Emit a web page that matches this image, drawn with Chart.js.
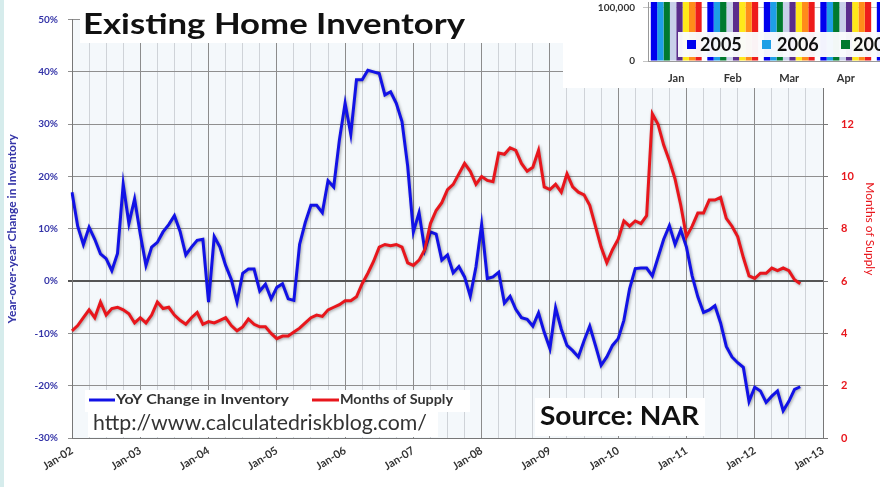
<!DOCTYPE html>
<html>
<head>
<meta charset="utf-8">
<script src="https://cdn.jsdelivr.net/npm/chart.js@4.4.1/dist/chart.umd.min.js"></script>
<style>
  html, body { margin: 0; padding: 0; background: #fff; }
  #wrap { position: relative; width: 880px; height: 487px; overflow: hidden; }
  #main { position: absolute; left: 0; top: 0; }
  #inset { position: absolute; left: 563px; top: 0; width: 317px; height: 88px; overflow: hidden; background: #fff; }
  #insetChart { position: absolute; left: 0; top: -12px; }
  #insetLegend { position: absolute; left: 115px; top: 32px; width: 220px; height: 25px;
    background: rgba(250, 251, 253, 0.97); font: bold 18px Lato, sans-serif; color: #111; }
  #insetLegend span.sq { position: absolute; top: 8px; width: 9px; height: 9px; }
  #insetLegend span.tx { position: absolute; top: 1px; line-height: 22px; }
</style>
</head>
<body>
<div id="wrap">
  <canvas id="main" width="880" height="487"></canvas>
  <div id="inset">
    <canvas id="insetChart" width="780" height="100"></canvas>
    <div id="insetLegend">
      <span class="sq" style="left:9px;background:#0000ee"></span><span class="tx" style="left:22px">2005</span>
      <span class="sq" style="left:84px;background:#1e9fe6"></span><span class="tx" style="left:99px">2006</span>
      <span class="sq" style="left:163px;background:#007a2e"></span><span class="tx" style="left:175px">2007</span>
    </div>
  </div>
</div>
<script>
// month labels Jan-02 .. Jan-13
const monthNames = ["Jan", "Feb", "Mar", "Apr", "May", "Jun", "Jul", "Aug", "Sep", "Oct", "Nov", "Dec"];
const yearCodes = ["02", "03", "04", "05", "06", "07", "08", "09", "10", "11", "12"];
const months = [];
yearCodes.forEach(y => monthNames.forEach(m => months.push(m + "-" + y)));
months.push("Jan-13");

// YoY change in inventory, % (Jan-02 .. Sep-12)
const yoyChange = [
  17, 10.5, 7, 10.3, 8, 5.2, 4.3, 2, 5.3, 18.5, 11, 15.7,
  9, 3, 6.5, 7.4, 9.4, 10.8, 12.5, 9.5, 5, 6.5, 7.8, 8,
  -4, 8.5, 6.5, 3, 0.3, -4, 1.5, 2.3, 2.3, -1.9, -0.6, -3.4,
  -1.2, -0.5, -3.4, -3.7, 7, 11.2, 14.5, 14.5, 13.1, 19.2, 18, 27,
  34, 28.1, 38.5, 38.5, 40.3, 40, 39.7, 35.6, 36.2, 34, 30.5, 22,
  9.4, 13.1, 6, 9.4, 9, 4, 5, 1.6, 2.8, 0.8, -2.9, 2.7,
  10.8, 0.5, 0.8, 1.7, -4.2, -2.9, -5.4, -7, -7.3, -8.6, -6.1, -9.8,
  -12.9, -5.1, -9.2, -12.3, -13.3, -14.5, -11.4, -8.6, -12.3, -16.1, -14.5, -12.3,
  -11, -7.5, -1.5, 2.4, 2.5, 2.5, 1, 4.5, 8, 10.6, 7, 9.8,
  6.5, 1, -3, -6, -5.5, -4.7, -8, -12.5, -14.5, -15.6, -16.5, -23,
  -20.3, -21, -23.2, -22, -21, -24.8, -23, -20.7, -20.2
];

// months of supply
const monthsSupply = [
  4.1, 4.3, 4.6, 4.9, 4.6, 5.2, 4.7, 4.95, 5, 4.9, 4.75, 4.4,
  4.6, 4.4, 4.7, 5.2, 4.95, 5, 4.7, 4.5, 4.35, 4.6, 4.8, 4.35,
  4.45, 4.4, 4.5, 4.6, 4.3, 4.1, 4.25, 4.55, 4.35, 4.25, 4.25, 4,
  3.8, 3.9, 3.9, 4.05, 4.2, 4.4, 4.6, 4.7, 4.65, 4.9, 5, 5.1,
  5.25, 5.25, 5.4, 5.9, 6.3, 6.75, 7.3, 7.4, 7.35, 7.4, 7.3, 6.7,
  6.6, 6.8, 7.2, 8.2, 8.7, 9, 9.5, 9.7, 10.1, 10.5, 10.2, 9.7,
  10, 9.85, 9.8, 10.9, 10.85, 11.1, 11, 10.5, 10.2, 10.35, 11, 9.6,
  9.5, 9.7, 9.4, 10.1, 9.6, 9.4, 9.3, 8.9, 8.1, 7.3, 6.7, 7.2,
  7.6, 8.3, 8.1, 8.3, 8.2, 8.5, 12.4, 12, 11.2, 10.6, 9.9, 8.9,
  7.7, 8.1, 8.6, 8.6, 9.1, 9.1, 9.2, 8.4, 8.1, 7.7, 6.9, 6.2,
  6.1, 6.3, 6.3, 6.5, 6.4, 6.5, 6.4, 6.05, 5.9
];

// bits of the pasted-in sales chart at the top right (mostly cut off)
const insetMonths = monthNames;
const insetYears = ["2005", "2006", "2007", "2008", "2009", "2010", "2011", "2012"];
const insetColors = ["#0000ee", "#1e9fe6", "#007a2e", "#c9d0ea", "#5a2d8c", "#ffe81a", "#ff8c1a", "#ee1c1c"];
const insetSales = [
  [380000, 420000, 520000, 560000, 600000, 680000, 650000, 640000, 560000, 520000, 480000, 500000],
  [360000, 380000, 480000, 500000, 560000, 620000, 560000, 560000, 480000, 460000, 420000, 440000],
  [320000, 340000, 440000, 460000, 500000, 540000, 480000, 480000, 380000, 360000, 320000, 330000],
  [280000, 290000, 340000, 370000, 400000, 420000, 420000, 400000, 380000, 370000, 280000, 300000],
  [250000, 260000, 310000, 340000, 380000, 440000, 470000, 480000, 440000, 480000, 440000, 420000],
  [260000, 270000, 350000, 430000, 500000, 480000, 340000, 310000, 340000, 340000, 320000, 370000],
  [270000, 270000, 350000, 390000, 420000, 440000, 400000, 420000, 370000, 350000, 330000, 370000],
  [280000, 300000, 380000, 410000, 460000, 480000, 420000, 450000]
];

const BLUE = "#1212e6", RED = "#e8161c";

const chartDecor = {
  id: "chartDecor",
  beforeDraw(chart) {
    const { ctx, chartArea: a } = chart;
    ctx.save();
    ctx.fillStyle = "#ffffff";
    ctx.fillRect(0, 0, chart.width, chart.height);
    ctx.fillStyle = "#d6ecec";
    ctx.fillRect(0, 0, 4, chart.height);
    ctx.fillStyle = "#f4f8fb";
    ctx.fillRect(a.left, a.top, a.right - a.left, a.bottom - a.top);
    ctx.restore();
  },
  beforeDatasetDraw(chart) {
    const ctx = chart.ctx;
    ctx.save();
    ctx.shadowColor = "rgba(0,0,0,0.35)";
    ctx.shadowBlur = 3;
    ctx.shadowOffsetX = 1;
    ctx.shadowOffsetY = 1;
  },
  afterDatasetDraw(chart) {
    chart.ctx.restore();
  },
  afterDraw(chart) {
    const ctx = chart.ctx;
    ctx.save();
    // white boxes under the text blocks
    ctx.fillStyle = "#ffffff";
    ctx.fillRect(80, 0, 490, 43);
    ctx.fillRect(85, 390, 385, 22);
    ctx.fillRect(88, 412, 350, 25);
    ctx.fillRect(535, 398, 170, 38);

    // draw text stretched to the width it has in the original
    const fit = (text, x, y, font, color, width) => {
      ctx.font = font;
      ctx.fillStyle = color;
      const w = ctx.measureText(text).width;
      ctx.save();
      ctx.translate(x, y);
      ctx.scale(width / w, 1);
      ctx.fillText(text, 0, 0);
      ctx.restore();
    };
    ctx.textBaseline = "alphabetic";
    ctx.textAlign = "left";
    fit("Existing Home Inventory", 83, 34, "bold 29px Lato", "#111", 382);

    // legend
    ctx.lineWidth = 3;
    ctx.strokeStyle = BLUE;
    ctx.beginPath(); ctx.moveTo(89, 400); ctx.lineTo(115, 400); ctx.stroke();
    ctx.strokeStyle = RED;
    ctx.beginPath(); ctx.moveTo(312, 400); ctx.lineTo(339, 400); ctx.stroke();
    fit(chart.data.datasets[0].label, 116, 404, "bold 13px Lato", "#333", 173);
    fit(chart.data.datasets[1].label, 340, 404, "bold 13px Lato", "#333", 113);

    fit("http://www.calculatedriskblog.com/", 93, 430, "21px Lato", "#333", 334);
    fit("Source: NAR", 540, 425, "bold 26px Lato", "#111", 159);
    ctx.restore();
  }
};

new Chart(document.getElementById("main"), {
  type: "line",
  data: {
    labels: months,
    datasets: [
      { label: "YoY Change in Inventory", data: yoyChange, yAxisID: "y", borderColor: BLUE, borderWidth: 3,
        pointRadius: 0, tension: 0, order: 1 },
      { label: "Months of Supply", data: monthsSupply, yAxisID: "y1", borderColor: RED, borderWidth: 3,
        pointRadius: 0, tension: 0, order: 0 }
    ]
  },
  options: {
    responsive: false,
    animation: false,
    devicePixelRatio: 1,
    layout: { padding: { top: 15, left: 0, right: 0, bottom: 0 } },
    plugins: { legend: { display: false }, tooltip: { enabled: false } },
    scales: {
      x: {
        afterFit: s => { s.height = 49; },
        grid: {
          drawTicks: false,
          color: c => c.index % 12 === 0 ? "#8c8c8c" : (c.index % 3 === 0 ? "#cfd3d8" : "rgba(0,0,0,0)"),
          lineWidth: 1
        },
        border: { color: "#777" },
        ticks: {
          autoSkip: false, minRotation: 32, maxRotation: 32, padding: 6,
          color: "#333", font: { family: "Lato", size: 11, weight: "bold" },
          callback: (v, i) => i % 12 === 0 ? months[i] : ""
        }
      },
      y: {
        position: "left",
        min: -30, max: 50,
        afterFit: s => { s.width = 72; },
        grid: {
          color: c => c.tick && c.tick.value === 0 ? "#555" : "#8f8f8f",
          lineWidth: c => c.tick && c.tick.value === 0 ? 2 : 1,
          tickLength: 4
        },
        border: { color: "#777" },
        ticks: {
          stepSize: 10, padding: 10, color: "#3434a8",
          font: { family: "Lato", size: 10, weight: "bold" },
          callback: v => v + "%"
        },
        title: {
          display: true, text: "Year-over-year Change in Inventory", color: "#3434a8",
          font: { family: "Lato", size: 12, weight: "bold" }, padding: { top: 5, bottom: 0 }
        }
      },
      y1: {
        position: "right",
        min: 0, max: 16,
        afterFit: s => { s.width = 57; },
        grid: { drawOnChartArea: false, color: "#777", tickLength: 5 },
        border: { color: "#777" },
        ticks: {
          stepSize: 2, padding: 13, color: RED,
          font: { family: "Lato", size: 11, weight: "bold" },
          callback: v => v <= 12 ? v : ""
        },
        title: {
          display: true, text: "Months of Supply", color: RED,
          font: { family: "Lato", size: 12 }, padding: { top: 3, bottom: 0 }
        }
      }
    }
  },
  plugins: [chartDecor]
});

new Chart(document.getElementById("insetChart"), {
  type: "bar",
  data: {
    labels: insetMonths,
    datasets: insetYears.map((y, k) => ({
      label: y, data: insetSales[k], backgroundColor: insetColors[k],
      categoryPercentage: 0.9, barPercentage: 1.0
    }))
  },
  options: {
    responsive: false,
    animation: false,
    devicePixelRatio: 1,
    layout: { padding: { top: 0, left: 0, right: 17, bottom: 0 } },
    plugins: { legend: { display: false }, tooltip: { enabled: false } },
    scales: {
      x: {
        afterFit: s => { s.height = 27; },
        grid: { display: false },
        border: { color: "#999" },
        ticks: { padding: 3, color: "#333", font: { family: "Lato", size: 11, weight: "bold" } }
      },
      y: {
        min: 0, max: 110000,
        afterFit: s => { s.width = 85; },
        afterBuildTicks: s => { s.ticks = [{ value: 0 }, { value: 100000 }]; },
        grid: { color: "#c4c4c4", tickLength: 5 },
        border: { color: "#999" },
        ticks: {
          padding: 8, color: "#333", font: { family: "Lato", size: 10, weight: "bold" },
          callback: v => v.toLocaleString("en-US")
        }
      }
    }
  }
});
</script>
</body>
</html>
